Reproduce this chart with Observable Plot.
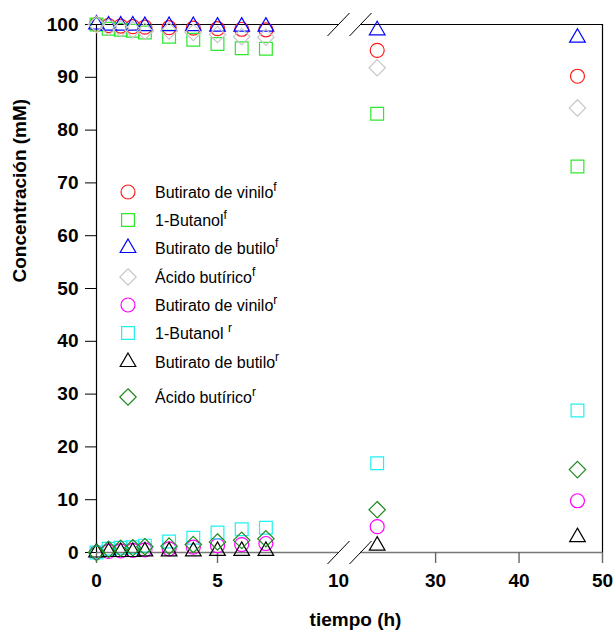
<!DOCTYPE html>
<html><head><meta charset="utf-8">
<script src="https://cdn.jsdelivr.net/npm/d3@7"></script>
<script src="https://cdn.jsdelivr.net/npm/@observablehq/plot@0.6"></script>
<style>
body{margin:0;background:#fff;}
#wrap{position:relative;width:615px;height:636px;font-family:"Liberation Sans",Arial,sans-serif;}
#leg{position:absolute;left:0;top:0;width:615px;height:636px;pointer-events:none;}
.row{position:absolute;left:155px;font-size:16px;line-height:1;white-space:nowrap;transform:translateY(-50%);color:#000;}
.row sup{font-size:12px;vertical-align:0.6em;line-height:0;}
</style></head><body><div id="wrap"></div>
<script>
// ---- data ----
const times = [0, 0.5, 1, 1.5, 2, 3, 4, 5, 6, 7, 23, 47];
const vinilo_f  = [100, 99.8, 99.7, 99.6, 99.5, 99.4, 99.3, 99.2, 99.1, 99.0, 95.1, 90.2];
const butanol_f = [100, 99.2, 99.0, 98.8, 98.5, 97.7, 97.1, 96.3, 95.5, 95.4, 83.1, 73.1];
const butilo_f  = [100, 99.8, 99.8, 99.8, 99.7, 99.7, 99.7, 99.6, 99.6, 99.6, 98.9, 97.5];
const acido_f   = [100, 99.5, 99.2, 99.0, 98.7, 98.8, 98.5, 98.1, 97.7, 97.6, 91.8, 84.2];
const vinilo_r  = [0, 0.2, 0.3, 0.4, 0.5, 0.7, 1.0, 1.3, 1.5, 1.7, 4.9, 9.8];
const butanol_r = [0, 0.7, 0.9, 1.0, 1.3, 2.1, 2.8, 3.8, 4.4, 4.7, 16.9, 26.9];
const butilo_r  = [0, 0.1, 0.1, 0.1, 0.2, 0.2, 0.2, 0.3, 0.3, 0.3, 1.3, 2.9];
const acido_r   = [0, 0.6, 0.8, 0.9, 1.1, 1.2, 1.5, 2.0, 2.3, 2.6, 8.1, 15.7];

const seriesNames = ["Butirato de vinilo", "1-Butanol", "Butirato de butilo", "Ácido butírico",
                     "Butirato de vinilo", "1-Butanol ", "Butirato de butilo", "Ácido butírico"];
const seriesSup = ["f", "f", "f", "f", "r", "r", "r", "r"];
const seriesValues = [vinilo_f, butanol_f, butilo_f, acido_f, vinilo_r, butanol_r, butilo_r, acido_r];

const xTicks = [0, 5, 30, 40, 50];
const xBreakLabel = [10];
const yTicks = [0, 10, 20, 30, 40, 50, 60, 70, 80, 90, 100];
const xBreak = [10, 21];          // axis broken between these times
const yEdges = [0, 100];

// ---- styles ----
const seriesColors = ["#ff1a1a", "#2ee82e", "#0000ff", "#c8c8c8", "#ff00ff", "#22f0f0", "#000000", "#1f8a1f"];
const seriesSymbols = ["circle", "square", "triangle", "diamond2", "circle", "square", "triangle", "diamond2"];
const symbolR = {circle: 7, square: 7.2, triangle: 5.8, diamond2: 7.4};
const legendRowY = [192, 220, 248, 277, 305, 333, 362, 397];
const FONT = "Liberation Sans, Arial, Helvetica, sans-serif";

const rows = seriesValues.map((vals, i) => vals.map((c, j) => ({t: times[j], c, s: i})));
const axisSegs = [{x1: 0, x2: xBreak[0]}, {x1: xBreak[1], x2: 50}];
const breaks = yEdges.flatMap(c => xBreak.map(t => ({t, c})));

const slash = {draw(ctx) { ctx.moveTo(-11, 11.5); ctx.lineTo(11, -11.5); }};

const marks = [
  Plot.ruleY(axisSegs, {y: () => 100, x1: "x1", x2: "x2", stroke: "#000", strokeWidth: 1.2}),
  Plot.ruleY(axisSegs, {y: () => 0, x1: "x1", x2: "x2", stroke: "#777", strokeWidth: 1.6}),
  Plot.ruleX([0], {y1: 0, y2: 100, stroke: "#000", strokeWidth: 1.2}),
  Plot.ruleX([50], {y1: 0, y2: 100, stroke: "#000", strokeWidth: 1.2}),
  Plot.dot(breaks, {x: "t", y: "c", symbol: slash, stroke: "#000", fill: "none", strokeWidth: 1}),
  Plot.axisY(yTicks, {tickSize: 11, tickPadding: 7, label: null, fontSize: 19, fontWeight: "bold", stroke: "#000"}),
  Plot.axisX(xTicks, {tickSize: 11, tickPadding: 10, label: null, fontSize: 19, fontWeight: "bold", stroke: "#666", strokeWidth: 1.4}),
  Plot.axisX(xBreakLabel, {tickSize: 0, tickPadding: 21, label: null, fontSize: 19, fontWeight: "bold"}),
  Plot.text(["tiempo (h)"], {frameAnchor: "bottom", dx: 6, dy: 73, fontSize: 19, fontWeight: "bold"}),
  Plot.text(["Concentración (mM)"], {frameAnchor: "left", rotate: -90, dx: -77, dy: -6, fontSize: 19, fontWeight: "bold"}),
  ...rows.map((data, i) => Plot.dot(data, {
    x: "t", y: "c", symbol: seriesSymbols[i], r: symbolR[seriesSymbols[i]],
    stroke: seriesColors[i], fill: "none", strokeWidth: 1.2
  }))
];

const chart = Plot.plot({
  width: 615, height: 636,
  marginLeft: 96, marginRight: 13, marginTop: 24, marginBottom: 84,
  style: {fontFamily: FONT, background: "#fff", color: "#000"},
  x: {type: "linear", domain: [0, xBreak[0], xBreak[1], 50], range: [96, 338, 360, 602]},
  y: {type: "linear", domain: [0, 100]},
  marks
});

const wrap = document.getElementById("wrap");
wrap.appendChild(chart);

// legend overlay (inside plot area)
const symMap = {circle: d3.symbolCircle, square: d3.symbolSquare, triangle: d3.symbolTriangle, diamond2: d3.symbolDiamond2};
const leg = d3.select(wrap).append("div").attr("id", "leg");
const lsvg = leg.append("svg").attr("width", 615).attr("height", 636).style("position", "absolute").style("left", 0).style("top", 0);
seriesNames.forEach((name, i) => {
  const sym = seriesSymbols[i], r = symbolR[sym];
  lsvg.append("path")
    .attr("d", d3.symbol(symMap[sym], Math.PI * r * r)())
    .attr("transform", `translate(128,${legendRowY[i]})`)
    .attr("fill", "none").attr("stroke", seriesColors[i]).attr("stroke-width", 1.2);
  const row = leg.append("div").attr("class", "row").style("top", (legendRowY[i] + 1) + "px");
  row.append("span").text(name);
  row.append("sup").text(seriesSup[i]);
});
</script></body></html>
